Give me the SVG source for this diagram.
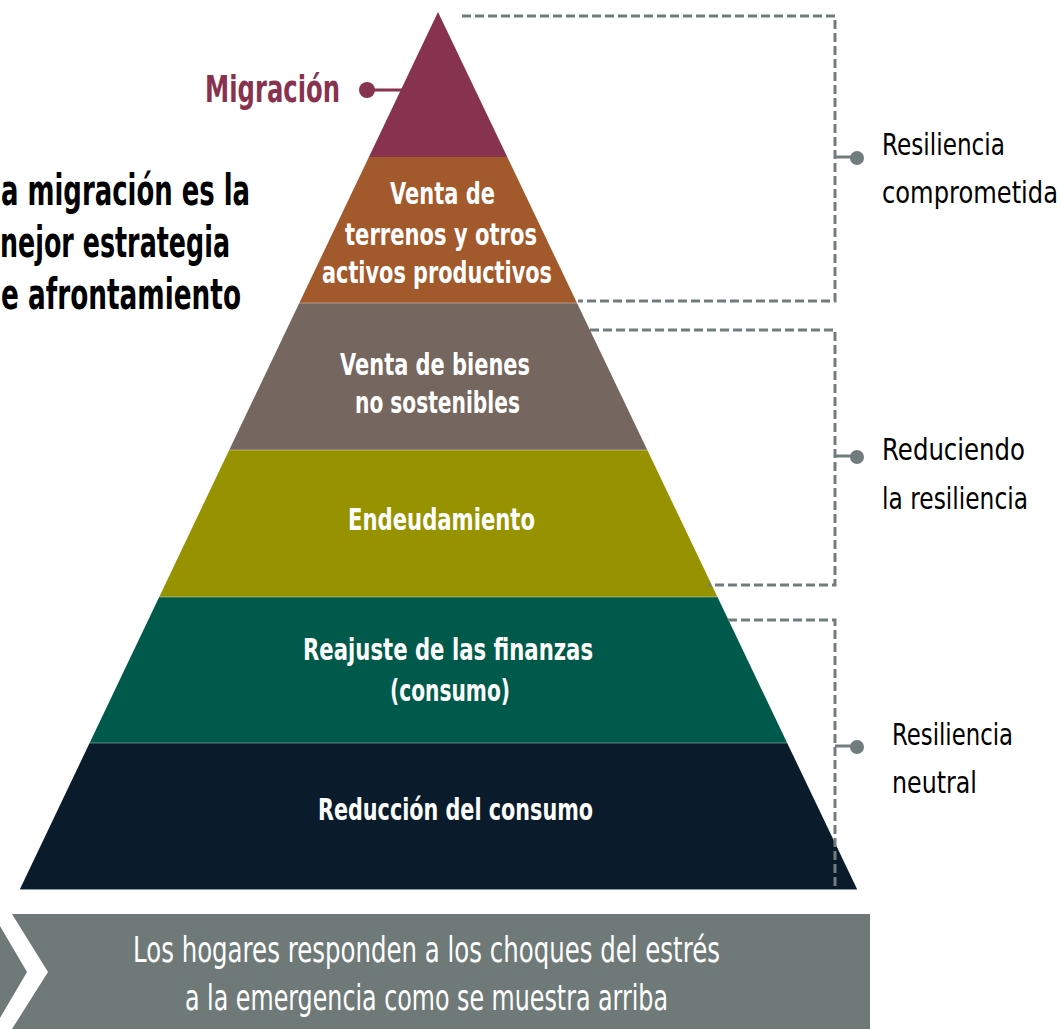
<svg xmlns="http://www.w3.org/2000/svg" width="1061" height="1029" viewBox="0 0 1061 1029">
<defs>
<style>
.band-text{font-family:"DejaVu Sans","Liberation Sans",sans-serif;font-weight:bold;font-size:30px;fill:#ffffff}
.side{font-family:"DejaVu Sans","Liberation Sans",sans-serif;font-size:31px;fill:#000000}
.lead{font-family:"DejaVu Sans","Liberation Sans",sans-serif;font-weight:bold;font-size:42px;fill:#000000}
.bar-text{font-family:"DejaVu Sans","Liberation Sans",sans-serif;font-size:35px;fill:#ffffff}
.mig{font-family:"DejaVu Sans","Liberation Sans",sans-serif;font-weight:bold;font-size:37px;fill:#873350}
.sep{stroke:#ffffff;stroke-opacity:0.25;stroke-width:1.5}
.dash{fill:none;stroke:#737C7C;stroke-width:3;stroke-dasharray:9 4}
.tick{fill:none;stroke:#737C7C;stroke-width:3}
.dot{fill:#737C7C}
</style>
</defs>
<rect width="1061" height="1029" fill="#ffffff"/>

<g id="band-migracion">
<polygon points="438,12 507.3,157 368.9,157" fill="#873350"/>
</g>
<g id="band-terrenos">
<polygon points="368.9,157 507.3,157 577,303 299.3,303" fill="#A2592B"/>
<text class="band-text" transform="translate(390,204) scale(0.68,1)" textLength="154.4" lengthAdjust="spacingAndGlyphs">Venta de</text>
<text class="band-text" transform="translate(345,245) scale(0.68,1)" textLength="282.4" lengthAdjust="spacingAndGlyphs">terrenos y otros</text>
<text class="band-text" transform="translate(322,283) scale(0.68,1)" textLength="338.2" lengthAdjust="spacingAndGlyphs">activos productivos</text>
</g>
<g id="band-bienes">
<polygon points="299.3,303 577,303 647.3,450 229.2,450" fill="#75665F"/>
<text class="band-text" transform="translate(340,375) scale(0.68,1)" textLength="279.4" lengthAdjust="spacingAndGlyphs">Venta de bienes</text>
<text class="band-text" transform="translate(355,413) scale(0.68,1)" textLength="242.6" lengthAdjust="spacingAndGlyphs">no sostenibles</text>
</g>
<g id="band-endeudamiento">
<polygon points="229.2,450 647.3,450 717.5,597 159.2,597" fill="#979300"/>
<text class="band-text" transform="translate(348,530) scale(0.68,1)" textLength="275" lengthAdjust="spacingAndGlyphs">Endeudamiento</text>
</g>
<g id="band-reajuste">
<polygon points="159.2,597 717.5,597 787.2,743 89.6,743" fill="#005A4B"/>
<text class="band-text" transform="translate(303,660) scale(0.68,1)" textLength="426.5" lengthAdjust="spacingAndGlyphs">Reajuste de las finanzas</text>
<text class="band-text" transform="translate(390,701) scale(0.68,1)" textLength="176.5" lengthAdjust="spacingAndGlyphs">(consumo)</text>
</g>
<g id="band-reduccion">
<polygon points="89.6,743 787.2,743 857,889 20,889" fill="#0A1C2C"/>
<text class="band-text" transform="translate(318,820) scale(0.68,1)" textLength="404.4" lengthAdjust="spacingAndGlyphs">Reducción del consumo</text>
</g>
<g id="band-separators">
<line class="sep" x1="299.3" y1="303" x2="577" y2="303"/>
<line class="sep" x1="229.2" y1="450" x2="647.3" y2="450"/>
<line class="sep" x1="159.2" y1="597" x2="717.5" y2="597"/>
<line class="sep" x1="89.6" y1="743" x2="787.2" y2="743"/>
<line x1="20" y1="889.5" x2="857" y2="889.5" stroke="#8a9aa6" stroke-width="1"/>
</g>

<g id="connectors">
<line x1="367" y1="90" x2="403" y2="90" stroke="#873350" stroke-width="3"/>
<circle cx="367" cy="90" r="8" fill="#873350"/>
<polyline class="dash" points="462,16 835,16 835,301 578,301"/>
<line class="tick" x1="835" y1="157" x2="852" y2="157"/>
<circle class="dot" cx="857" cy="158" r="7"/>
<polyline class="dash" points="590,330 835,330 835,585 708,585"/>
<line class="tick" x1="835" y1="456" x2="852" y2="456"/>
<circle class="dot" cx="857" cy="457" r="7"/>
<polyline class="dash" points="728,620 835,620 835,889"/>
<line class="tick" x1="835" y1="746" x2="852" y2="746"/>
<circle class="dot" cx="857" cy="747" r="7"/>
</g>

<g id="label-migracion">
<text class="mig" transform="translate(205,102) scale(0.67,1)" textLength="201.5" lengthAdjust="spacingAndGlyphs">Migración</text>
</g>
<g id="lead-text">
<text class="lead" transform="translate(1,205) scale(0.58,1)" textLength="429.3" lengthAdjust="spacingAndGlyphs">a migración es la</text>
<text class="lead" transform="translate(0,257) scale(0.58,1)" textLength="396.6" lengthAdjust="spacingAndGlyphs">nejor estrategia</text>
<text class="lead" transform="translate(1,309) scale(0.58,1)" textLength="413.8" lengthAdjust="spacingAndGlyphs">e afrontamiento</text>
</g>
<g id="label-comprometida">
<text class="side" transform="translate(882,155) scale(0.76,1)" textLength="161.8" lengthAdjust="spacingAndGlyphs">Resiliencia</text>
<text class="side" transform="translate(882,203) scale(0.76,1)" textLength="231.6" lengthAdjust="spacingAndGlyphs">comprometida</text>
</g>
<g id="label-reduciendo">
<text class="side" transform="translate(882,460) scale(0.76,1)" textLength="188.2" lengthAdjust="spacingAndGlyphs">Reduciendo</text>
<text class="side" transform="translate(882,509) scale(0.76,1)" textLength="192.1" lengthAdjust="spacingAndGlyphs">la resiliencia</text>
</g>
<g id="label-neutral">
<text class="side" transform="translate(892,745) scale(0.76,1)" textLength="159.2" lengthAdjust="spacingAndGlyphs">Resiliencia</text>
<text class="side" transform="translate(892,793) scale(0.76,1)" textLength="111.8" lengthAdjust="spacingAndGlyphs">neutral</text>
</g>

<g id="bottom-bar">
<rect x="0" y="914" width="870" height="115" fill="#6F7A78"/>
<polygon points="0,914 12,914 48,972 12,1029 0,1029 0,1018 27,972 0,926" fill="#ffffff"/>
<text class="bar-text" transform="translate(133,962) scale(0.68,1)" textLength="863.2" lengthAdjust="spacingAndGlyphs">Los hogares responden a los choques del estrés</text>
<text class="bar-text" transform="translate(185,1010) scale(0.68,1)" textLength="710.3" lengthAdjust="spacingAndGlyphs">a la emergencia como se muestra arriba</text>
</g>
</svg>
